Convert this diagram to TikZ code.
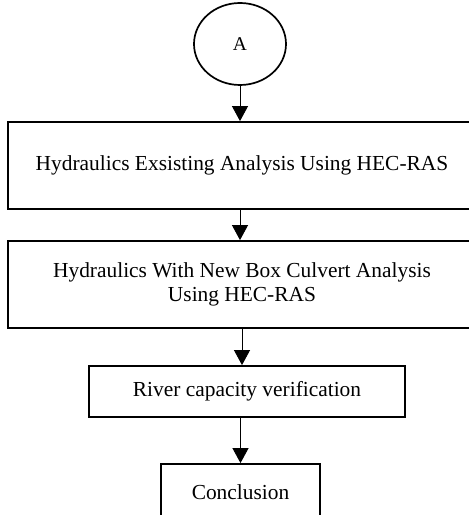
\documentclass[tikz,border=0pt]{standalone}
\usepackage{fontspec}
\setmainfont{Liberation Serif}
\usetikzlibrary{arrows.meta,shapes.geometric,positioning}

\begin{document}
\begin{tikzpicture}[x=1pt,y=1pt,
  box/.style={draw,line width=1.8pt,align=center,inner sep=0pt,font=\fontsize{21.4}{23.5}\selectfont},
  arr/.style={line width=0.9pt,-{Triangle[width=16pt,length=15pt]}}]
\useasboundingbox (0,0) rectangle (469,515);
\node[draw,ellipse,line width=1.7pt,minimum width=92,minimum height=82,font=\fontsize{19.5}{22}\selectfont] (conn) at (240,471) {A};
\node[box,minimum width=468,minimum height=87] (existing) at (242,349.5) {Hydraulics Exsisting Analysis Using HEC-RAS};
\node[box,minimum width=468,minimum height=87] (culvert) at (242,230.5) {Hydraulics With New Box Culvert Analysis\\Using HEC-RAS};
\node[box,minimum width=316,minimum height=51] (capacity) at (247,123.5) {River capacity verification};
\node[box,minimum width=159,minimum height=56] (concl) at (240.5,23) {Conclusion};
% arrows
\draw[arr] (conn.south) -- (conn.south |- existing.north);
\draw[arr] (existing.south -| conn) -- (culvert.north -| conn);
\draw[arr] (culvert.south) -- (capacity.north -| culvert);
\draw[arr] (capacity.south -| concl) -- (concl.north);
\end{tikzpicture}
\end{document}
